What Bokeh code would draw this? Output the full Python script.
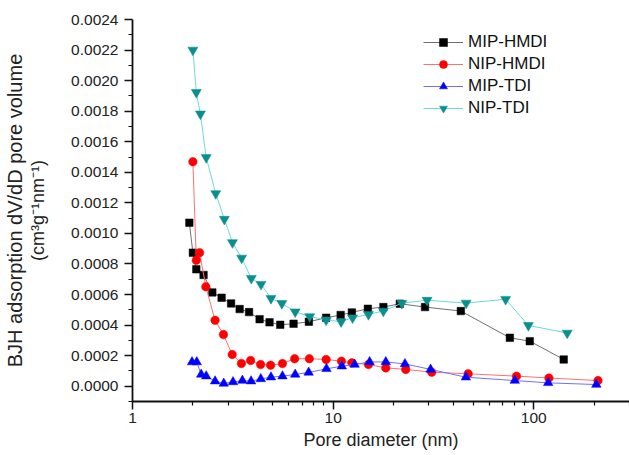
from bokeh.plotting import figure
from bokeh.models import Range1d, FixedTicker, PrintfTickFormatter, Legend, LegendItem, LinearAxis
from bokeh.embed import file_html
from bokeh.resources import INLINE

# ---- data ----
mip_hmdi_x = [1.92, 2.00, 2.08, 2.26, 2.50, 2.78, 3.10, 3.42, 3.81, 4.30, 4.82, 5.45, 6.35,
              7.57, 9.23, 10.9, 12.4, 14.9, 17.8, 21.5, 28.7, 43.3, 76.0, 95.5, 141]
mip_hmdi_y = [0.00107, 0.000874, 0.000765, 0.000728, 0.000614, 0.000579, 0.000542, 0.000505,
              0.000485, 0.000439, 0.000418, 0.000402, 0.000409, 0.000422, 0.000448, 0.000466,
              0.000483, 0.000507, 0.000518, 0.00054, 0.000518, 0.000492, 0.000317, 0.000295,
              0.000175]

nip_hmdi_x = [2.00, 2.08, 2.16, 2.32, 2.58, 2.84, 3.14, 3.49, 3.88, 4.35, 4.88, 5.59, 6.43,
              7.61, 9.23, 11.0, 12.4, 15.0, 18.3, 23.0, 31.0, 47.1, 82.0, 119, 209]
nip_hmdi_y = [0.001469, 0.000824, 0.000874, 0.000651, 0.000431, 0.000338, 0.000208, 0.000149,
              0.000169, 0.000142, 0.000138, 0.000148, 0.00018, 0.00018, 0.000175, 0.000164,
              0.000153, 0.000142, 0.00012, 0.00011, 0.000092, 0.000081, 0.000066, 0.000054,
              0.000037]

mip_tdi_x = [1.98, 2.09, 2.20, 2.33, 2.58, 2.85, 3.17, 3.53, 3.90, 4.36, 4.90, 5.59, 6.47,
             7.55, 9.26, 11.05, 12.8, 15.2, 18.3, 22.8, 30.6, 45.9, 80.4, 118, 205]
mip_tdi_y = [0.000158, 0.000158, 0.000077, 0.000066, 0.000033, 0.000018, 0.000028, 0.000037,
             0.000033, 0.000048, 0.000059, 0.000066, 0.000077, 0.00009, 0.000114, 0.000131,
             0.000142, 0.000159, 0.000159, 0.000146, 0.00011, 0.000059, 0.000037, 0.000022,
             0.000011]

nip_tdi_x = [2.00, 2.08, 2.18, 2.33, 2.60, 2.87, 3.15, 3.50, 3.91, 4.37, 4.90, 5.55, 6.47,
             7.64, 9.23, 10.96, 12.5, 15.0, 17.8, 22.0, 29.4, 46.0, 72.4, 94.0, 146.8]
nip_tdi_y = [0.0022, 0.001923, 0.001782, 0.001497, 0.001261, 0.001093, 0.00094, 0.000839,
             0.000706, 0.000667, 0.000575, 0.000542, 0.000487, 0.000456, 0.000434, 0.000422,
             0.000448, 0.00047, 0.000492, 0.000543, 0.000563, 0.000544, 0.000569, 0.000398,
             0.000348]

series_names = ["MIP-HMDI", "NIP-HMDI", "MIP-TDI", "NIP-TDI"]

x_major_ticks = [1, 10, 100]
x_minor_ticks = [2, 3, 4, 5, 6, 7, 8, 9, 20, 30, 40, 50, 60, 70, 80, 90, 200, 300]
y_major_ticks = [0.0, 0.0002, 0.0004, 0.0006, 0.0008, 0.0010, 0.0012, 0.0014, 0.0016,
                 0.0018, 0.0020, 0.0022, 0.0024]
y_minor_ticks = [-0.0001, 0.0001, 0.0003, 0.0005, 0.0007, 0.0009, 0.0011, 0.0013, 0.0015,
                 0.0017, 0.0019, 0.0021, 0.0023]

y_title_line1 = "BJH adsorption dV/dD pore volume"
y_title_line2 = "(cm\u00b3g\u207b\u00b9nm\u207b\u00b9)"
x_title = "Pore diameter (nm)"

FONT = "Liberation Sans"

p = figure(width=629, height=455, x_axis_type="log",
           x_range=Range1d(1, 300), y_range=Range1d(-0.0001, 0.0024),
           output_backend="svg", toolbar_location=None,
           min_border_left=132, min_border_right=0, min_border_top=19, min_border_bottom=54)

p.outline_line_color = None
p.xgrid.visible = False
p.ygrid.visible = False

styles = [
    dict(x=mip_hmdi_x, y=mip_hmdi_y, line="#707070", fill="#000000", marker="square", size=7.5),
    dict(x=nip_hmdi_x, y=nip_hmdi_y, line="#ff7070", fill="#ff0000", marker="circle", size=8.5),
    dict(x=mip_tdi_x, y=mip_tdi_y, line="#7070ff", fill="#0000ff", marker="triangle", size=9.5),
    dict(x=nip_tdi_x, y=nip_tdi_y, line="#70d8d8", fill="#0a8f8f", marker="inverted_triangle", size=10),
]

items = []
for name, s in zip(series_names, styles):
    lr = p.line(s["x"], s["y"], line_color=s["line"], line_width=1)
    sr = p.scatter(s["x"], s["y"], marker=s["marker"], size=s["size"],
                   fill_color=s["fill"], line_color=s["fill"], line_width=0.5)
    items.append(LegendItem(label=name, renderers=[lr, sr]))

legend = Legend(items=items, location=(291, 283), orientation="vertical",
                border_line_color=None, background_fill_alpha=0, padding=0, margin=0,
                spacing=2, glyph_width=40, glyph_height=20, label_height=20,
                label_standoff=5, label_text_font=FONT, label_text_font_size="17px",
                label_text_color="#111111")
p.add_layout(legend)

# x axis
xa = p.xaxis[0]
xa.ticker = FixedTicker(ticks=x_major_ticks, minor_ticks=x_minor_ticks)
xa.formatter = PrintfTickFormatter(format="%d")
xa.axis_label = x_title

# y axis
ya = p.yaxis[0]
ya.ticker = FixedTicker(ticks=y_major_ticks, minor_ticks=y_minor_ticks)
ya.formatter = PrintfTickFormatter(format="%.4f")
ya.axis_label = y_title_line2

for ax in (xa, ya):
    ax.axis_line_width = 1.8
    ax.axis_line_color = "#111111"
    ax.major_tick_line_color = "#111111"
    ax.minor_tick_line_color = "#111111"
    ax.major_tick_line_width = 1.5
    ax.minor_tick_line_width = 1.2
    ax.major_tick_in = 0
    ax.major_tick_out = 8
    ax.minor_tick_in = 0
    ax.minor_tick_out = 4
    ax.major_label_text_font = FONT
    ax.major_label_text_font_size = "15.5px"
    ax.major_label_text_color = "#222222"
    ax.axis_label_text_font = FONT
    ax.axis_label_text_font_style = "normal"
    ax.axis_label_text_font_size = "18px"
    ax.axis_label_text_color = "#222222"

xa.major_label_standoff = 3
xa.axis_label_standoff = 4
ya.major_label_standoff = 6
ya.axis_label_standoff = 20

# outer title line of the y axis
ya2 = LinearAxis(axis_label=y_title_line1, ticker=FixedTicker(ticks=[]),
                 axis_line_color=None, major_tick_line_color=None, minor_tick_line_color=None,
                 major_tick_in=0, major_tick_out=0, minor_tick_in=0, minor_tick_out=0,
                 major_label_text_font_size="0px", major_label_standoff=0,
                 axis_label_standoff=0, axis_label_text_font=FONT,
                 axis_label_text_font_style="normal", axis_label_text_font_size="20px",
                 axis_label_text_color="#222222")
p.add_layout(ya2, "left")

open("out.html", "w").write(file_html(p, INLINE))
